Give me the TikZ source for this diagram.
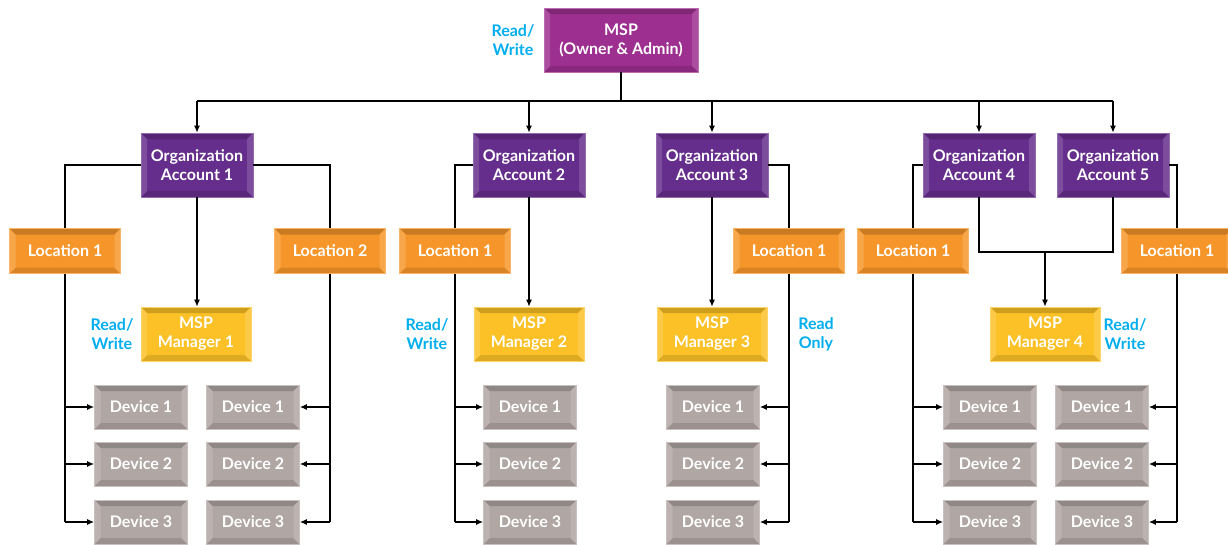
\documentclass[tikz,border=0pt]{standalone}
\usepackage{fontspec}
\setmainfont{Lato}
\usepackage{tikz}
\usetikzlibrary{arrows.meta}

\definecolor{mspc}{HTML}{9C2F8F}
\definecolor{orgc}{HTML}{652D8C}
\definecolor{locc}{HTML}{F6962A}
\definecolor{mgrc}{HTML}{FBC126}
\definecolor{devc}{HTML}{B0A6A3}
\definecolor{rwblue}{HTML}{00AEEF}

\tikzset{
  bev/.style={fill=#1, draw=#1!70!white, line width=0.6pt,
    path picture={
      \fill[#1!82!black] (path picture bounding box.north west) -- (path picture bounding box.north east)
        -- ([shift={(-6pt,-6pt)}]path picture bounding box.north east) -- ([shift={(6pt,-6pt)}]path picture bounding box.north west) -- cycle;
      \fill[#1!88!black] (path picture bounding box.south west) -- (path picture bounding box.south east)
        -- ([shift={(-6pt,6pt)}]path picture bounding box.south east) -- ([shift={(6pt,6pt)}]path picture bounding box.south west) -- cycle;
      \fill[#1!85!white] (path picture bounding box.north west) -- ([shift={(6pt,-6pt)}]path picture bounding box.north west)
        -- ([shift={(6pt,6pt)}]path picture bounding box.south west) -- (path picture bounding box.south west) -- cycle;
      \fill[#1!85!white] (path picture bounding box.north east) -- ([shift={(-6pt,-6pt)}]path picture bounding box.north east)
        -- ([shift={(-6pt,6pt)}]path picture bounding box.south east) -- (path picture bounding box.south east) -- cycle;
    }},
  box/.style={text=white, font=\fontsize{16}{19}\selectfont\bfseries, align=center, inner sep=0pt},
  mspbox/.style={box, bev=mspc, minimum width=154pt, minimum height=64pt},
  orgbox/.style={box, bev=orgc, minimum width=112pt, minimum height=64pt},
  locbox/.style={box, bev=locc, minimum width=111pt, minimum height=45pt},
  mgrbox/.style={box, bev=mgrc, minimum width=110pt, minimum height=54pt},
  devbox/.style={box, bev=devc, minimum width=93pt, minimum height=44pt},
  lbl/.style={text=rwblue, font=\fontsize{16}{19}\selectfont\bfseries, align=center, inner sep=0pt},
  line/.style={draw=black, line width=1.3pt},
  arr/.style={line, -{Latex[length=7pt,width=6pt]}}
}

\begin{document}
\begin{tikzpicture}[x=1pt, y=-1pt]
  \useasboundingbox (0,0) rectangle (1228,544);
  % top
  \node[mspbox] (msp) at (621,40) {MSP\\(Owner \& Admin)};
  \node[lbl] (rw0) at (513,40) {Read/\\Write};
  % accounts
  \node[orgbox] (org1) at (197,165) {Organization\\Account 1};
  \node[orgbox] (org2) at (529,165) {Organization\\Account 2};
  \node[orgbox] (org3) at (712,165) {Organization\\Account 3};
  \node[orgbox] (org4) at (979,165) {Organization\\Account 4};
  \node[orgbox] (org5) at (1113,165) {Organization\\Account 5};
  % locations
  \node[locbox] (loc1a) at (65,251) {Location 1};
  \node[locbox] (loc1b) at (330,251) {Location 2};
  \node[locbox] (loc2) at (455,251) {Location 1};
  \node[locbox] (loc3) at (789,251) {Location 1};
  \node[locbox] (loc4) at (913,251) {Location 1};
  \node[locbox] (loc5) at (1177,251) {Location 1};
  % managers
  \node[mgrbox] (mgr1) at (196,334) {MSP\\Manager 1};
  \node[mgrbox] (mgr2) at (529,334) {MSP\\Manager 2};
  \node[mgrbox] (mgr3) at (712,334) {MSP\\Manager 3};
  \node[mgrbox] (mgr4) at (1045,334) {MSP\\Manager 4};
  \node[lbl] (rw1) at (112,334) {Read/\\Write};
  \node[lbl] (rw2) at (427,334) {Read/\\Write};
  \node[lbl] (ro3) at (816,334) {Read\\Only};
  \node[lbl] (rw4) at (1125,334) {Read/\\Write};
  % devices
  \foreach \c/\x in {a/141,b/253,c/530,d/713,e/990,f/1102}
    \foreach \i/\y in {1/407,2/464,3/522}
      \node[devbox] (d\c\i) at (\x,\y) {Device \i};

  % connectors
  \coordinate (bus) at (0,101);
  \coordinate (join) at (0,252);
  \draw[line] (msp.south) -- (msp.south |- bus);
  \draw[line] (org1.north |- bus) -- (org5.north |- bus);
  \foreach \o in {org1,org2,org3,org4,org5}
    \draw[arr] (\o.north |- bus) -- (\o.north);

  \draw[line] (org1.west) -| (loc1a.north);
  \draw[line] (org1.east) -| (loc1b.north);
  \draw[line] (org2.west) -| (loc2.north);
  \draw[line] (org3.east) -| (loc3.north);
  \draw[line] (org4.west) -| (loc4.north);
  \draw[line] (org5.east) -| (loc5.north);

  \draw[arr] (org1.south) -- (org1.south |- mgr1.north);
  \draw[arr] (org2.south) -- (mgr2.north);
  \draw[arr] (org3.south) -- (mgr3.north);
  \draw[line] (org4.south) |- (org5.south |- join) -- (org5.south);
  \draw[arr] (mgr4.north |- join) -- (mgr4.north);

  \draw[line] (loc1a.south) -- (loc1a.south |- da3);
  \draw[line] (loc1b.south) -- (loc1b.south |- db3);
  \draw[line] (loc2.south) -- (loc2.south |- dc3);
  \draw[line] (loc3.south) -- (loc3.south |- dd3);
  \draw[line] (loc4.south) -- (loc4.south |- de3);
  \draw[line] (loc5.south) -- (loc5.south |- df3);
  \foreach \i in {1,2,3} {
    \draw[arr] (loc1a.south |- da\i) -- (da\i.west);
    \draw[arr] (loc1b.south |- db\i) -- (db\i.east);
    \draw[arr] (loc2.south |- dc\i) -- (dc\i.west);
    \draw[arr] (loc3.south |- dd\i) -- (dd\i.east);
    \draw[arr] (loc4.south |- de\i) -- (de\i.west);
    \draw[arr] (loc5.south |- df\i) -- (df\i.east);
  }
\end{tikzpicture}
\end{document}
